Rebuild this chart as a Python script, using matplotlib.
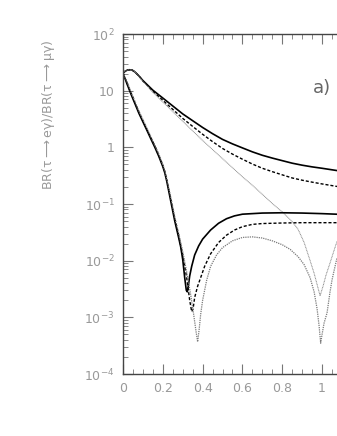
import matplotlib
matplotlib.use("Agg")
import matplotlib.pyplot as plt
from matplotlib.ticker import FixedLocator, FixedFormatter, LogLocator, NullFormatter, MultipleLocator

plt.rcParams['font.family'] = ['DejaVu Sans']
plt.rcParams['mathtext.default'] = 'regular'

# ---- data ----
up_solid_x = [0.0, 0.01, 0.02, 0.03, 0.045, 0.06, 0.08, 0.1, 0.12, 0.15, 0.2, 0.25, 0.3, 0.35, 0.4, 0.45, 0.5,
              0.55, 0.6, 0.65, 0.7, 0.75, 0.8, 0.85, 0.9, 0.95, 1.0, 1.075]
up_solid_y = [20.4, 21.9, 22.9, 23.4, 23.2, 21.4, 18.2, 15.1, 12.9, 10.2, 7.41, 5.37, 3.89, 2.95, 2.24, 1.74, 1.38,
              1.15, 0.977, 0.832, 0.724, 0.646, 0.582, 0.525, 0.484, 0.452, 0.427, 0.389]

up_dash_x = [0.0, 0.01, 0.02, 0.03, 0.045, 0.06, 0.08, 0.1, 0.12, 0.15, 0.2, 0.25, 0.3, 0.35, 0.4, 0.45, 0.5,
             0.55, 0.6, 0.65, 0.7, 0.75, 0.8, 0.85, 0.9, 0.95, 1.0, 1.075]
up_dash_y = [20.4, 21.9, 22.9, 23.4, 23.2, 21.4, 18.2, 14.8, 12.6, 9.77, 6.76, 4.68, 3.24, 2.34, 1.70, 1.26, 0.955,
             0.759, 0.617, 0.507, 0.427, 0.372, 0.327, 0.288, 0.263, 0.243, 0.226, 0.204]

up_dot_x = [0.0, 0.01, 0.02, 0.03, 0.045, 0.06, 0.08, 0.1, 0.12, 0.15, 0.2, 0.25, 0.3, 0.35, 0.4, 0.45, 0.5,
            0.55, 0.6, 0.65, 0.7, 0.75, 0.8, 0.85, 0.88, 0.91, 0.94, 0.96, 0.975, 0.99, 1.005, 1.02, 1.04, 1.06, 1.075]
up_dot_y = [20.4, 21.9, 22.9, 23.4, 23.2, 21.4, 18.2, 14.6, 12.3, 9.33, 6.31, 4.27, 2.88, 1.95, 1.32, 0.912, 0.631,
            0.437, 0.302, 0.214, 0.148, 0.102, 0.0724, 0.049, 0.0355, 0.0209, 0.01, 0.006, 0.0038, 0.0024,
            0.00355, 0.0056, 0.0091, 0.0151, 0.0219]

lo_solid_x = [0.0, 0.02, 0.04, 0.06, 0.08, 0.1, 0.12, 0.14, 0.16, 0.18, 0.2, 0.21, 0.22, 0.24, 0.26, 0.28, 0.29,
              0.30, 0.31, 0.318, 0.323, 0.328, 0.335, 0.345, 0.36, 0.38, 0.4, 0.44, 0.48, 0.52, 0.56, 0.6, 0.7,
              0.8, 0.9, 1.0, 1.075]
lo_solid_y = [20.4, 13.2, 8.71, 5.89, 3.98, 2.82, 2.0, 1.41, 1.0, 0.692, 0.457, 0.355, 0.251, 0.112, 0.0501,
              0.0251, 0.0174, 0.0105, 0.005, 0.003, 0.00282, 0.00355, 0.00537, 0.00794, 0.0126, 0.0182, 0.024,
              0.0347, 0.0457, 0.055, 0.0617, 0.0661, 0.0692, 0.070, 0.0692, 0.0676, 0.066]

lo_dash_x = [0.0, 0.02, 0.04, 0.06, 0.08, 0.1, 0.12, 0.14, 0.16, 0.18, 0.2, 0.21, 0.22, 0.24, 0.26, 0.28, 0.30,
             0.32, 0.335, 0.345, 0.352, 0.36, 0.375, 0.39, 0.41, 0.44, 0.48, 0.52, 0.56, 0.6, 0.65, 0.7, 0.8,
             0.9, 1.075]
lo_dash_y = [20.4, 13.8, 9.12, 6.17, 4.17, 2.95, 2.09, 1.48, 1.05, 0.724, 0.479, 0.372, 0.263, 0.12, 0.055,
             0.0275, 0.0126, 0.005, 0.002, 0.00126, 0.00141, 0.00224, 0.00355, 0.005, 0.00794, 0.0132, 0.0209,
             0.0282, 0.0347, 0.0398, 0.0437, 0.0452, 0.0462, 0.0468, 0.0468]

lo_dot_x = [0.0, 0.02, 0.04, 0.06, 0.08, 0.1, 0.12, 0.14, 0.16, 0.18, 0.2, 0.21, 0.22, 0.24, 0.26, 0.28, 0.30,
            0.32, 0.34, 0.355, 0.367, 0.375, 0.383, 0.39, 0.40, 0.42, 0.44, 0.47, 0.5, 0.55, 0.6, 0.65, 0.7,
            0.75, 0.8, 0.84, 0.88, 0.91, 0.94, 0.96, 0.975, 0.985, 0.993, 1.0, 1.01, 1.025, 1.04, 1.05, 1.06, 1.075]
lo_dot_y = [20.4, 14.5, 9.55, 6.46, 4.37, 3.09, 2.19, 1.55, 1.10, 0.759, 0.501, 0.389, 0.282, 0.132, 0.0603,
            0.0302, 0.0145, 0.0063, 0.0025, 0.00112, 0.00056, 0.00037, 0.00063, 0.00112, 0.002, 0.00447,
            0.00794, 0.0126, 0.017, 0.0224, 0.0257, 0.0263, 0.0251, 0.0224, 0.0191, 0.0158, 0.0117, 0.0085,
            0.005, 0.00282, 0.00141, 0.00071, 0.00035, 0.0005, 0.00079, 0.0012, 0.00282, 0.00457, 0.0066, 0.0112]

xticks = [0, 0.2, 0.4, 0.6, 0.8, 1.0]
xticklabels = ['0', '0.2', '0.4', '0.6', '0.8', '1']
yticks = [1e-4, 1e-3, 1e-2, 1e-1, 1, 10, 100]
yticklabels = ['10$^{-4}$', '10$^{-3}$', '10$^{-2}$', '10$^{-1}$', '1', '10', '10$^{2}$']

# ---- figure ----
fig = plt.figure(figsize=(3.37, 4.36), dpi=100)
ax = fig.add_axes([123/337, 1-374/436, 1-123/337, (374-34)/436])

ax.plot(up_solid_x, up_solid_y, color='black', lw=1.2)
ax.plot(up_dash_x, up_dash_y, color='black', lw=1.0, linestyle=(0, (2.2, 1.4)))
ax.plot(up_dot_x, up_dot_y, color='#8a8a8a', lw=0.7, linestyle=(0, (1, 0.6)))
ax.plot(lo_solid_x, lo_solid_y, color='black', lw=1.2)
ax.plot(lo_dash_x, lo_dash_y, color='black', lw=1.0, linestyle=(0, (2.2, 1.4)))
ax.plot(lo_dot_x, lo_dot_y, color='#7a7a7a', lw=0.9, linestyle=(0, (1, 0.8)))

ax.set_yscale('log')
ax.set_ylim(1e-4, 100)
ax.set_xlim(0, 1.075)

ax.yaxis.set_major_locator(FixedLocator(yticks))
ax.yaxis.set_major_formatter(FixedFormatter(yticklabels))
ax.yaxis.set_minor_locator(LogLocator(base=10, subs=range(2, 10), numticks=20))
ax.yaxis.set_minor_formatter(NullFormatter())
ax.xaxis.set_major_locator(FixedLocator(xticks))
ax.xaxis.set_major_formatter(FixedFormatter(xticklabels))
ax.xaxis.set_minor_locator(MultipleLocator(0.05))

for s in ['left', 'top', 'bottom']:
    ax.spines[s].set_color('#444444')
    ax.spines[s].set_linewidth(1.0)
ax.spines['right'].set_visible(False)

ax.tick_params(which='both', direction='in', top=True, right=False, colors='#777777',
               labelcolor='#999999', labelsize=9)
ax.tick_params(which='major', length=7, width=0.8, pad=6)
ax.tick_params(which='minor', length=3.5, width=0.6)

ax.set_ylabel(r'BR($\tau\longrightarrow e\gamma$)/BR($\tau\longrightarrow\mu\gamma$)',
              color='#999999', fontsize=9)
ax.yaxis.set_label_coords((57-123)/(337-123), (374-115)/340)

ax.text(313/337, 1-88/436, 'a)', transform=fig.transFigure, color='#666666',
        fontsize=13, ha='left', va='center')

fig.savefig('out.png', dpi=100)
